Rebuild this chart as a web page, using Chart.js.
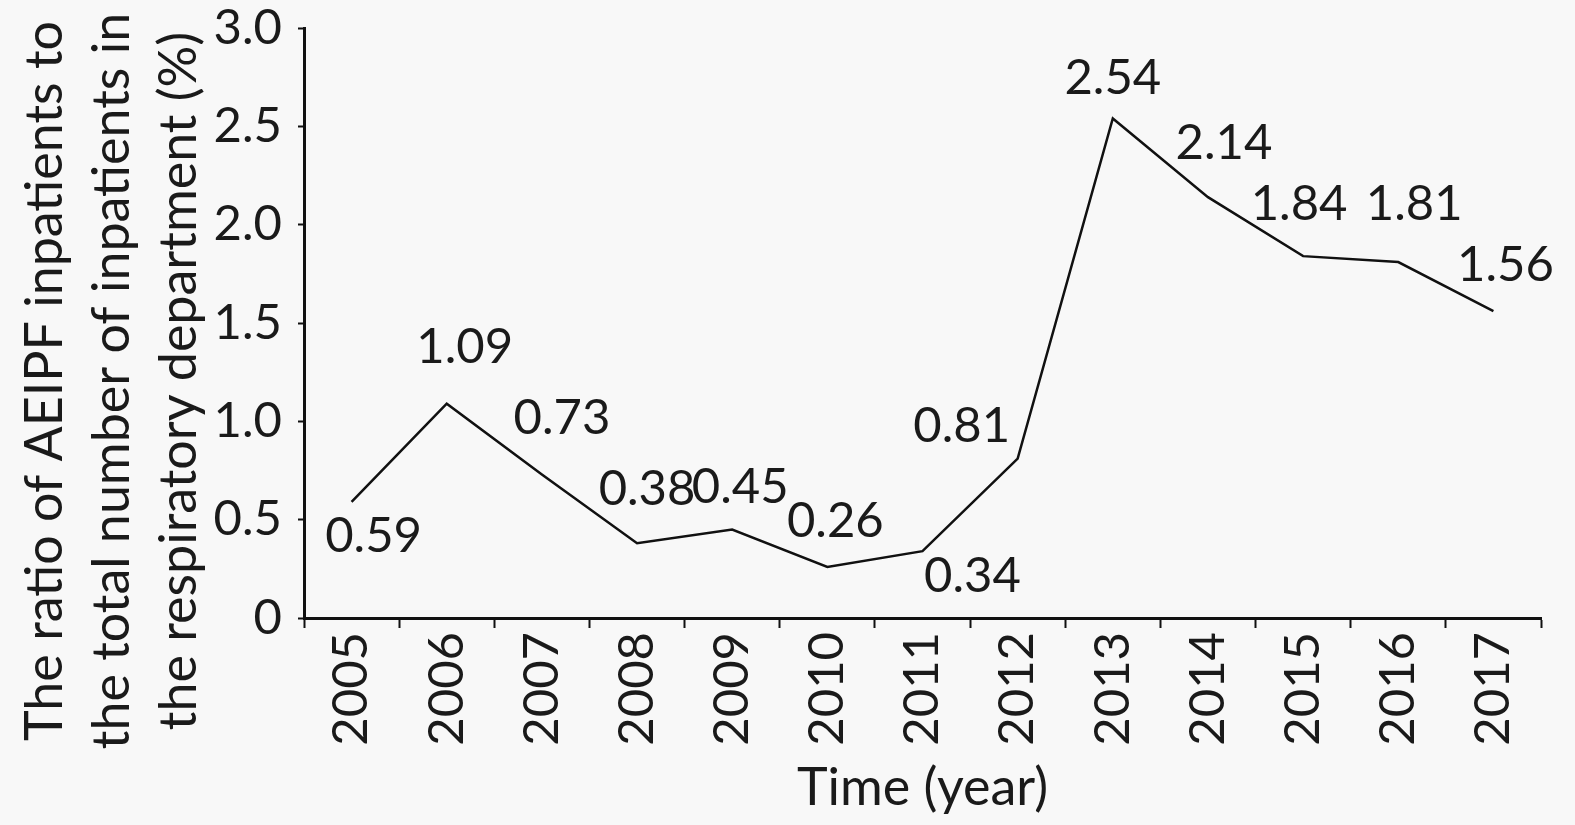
<!DOCTYPE html>
<html>
<head>
<meta charset="utf-8">
<script src="https://cdn.jsdelivr.net/npm/chart.js@4.4.1/dist/chart.umd.min.js"></script>
<style>
  html, body { margin: 0; padding: 0; background: #f8f8f8; }
  #wrap { width: 1575px; height: 825px; }
</style>
</head>
<body>
<div id="wrap"><canvas id="aeipfChart"></canvas></div>
<script>
// data
const years = ['2005', '2006', '2007', '2008', '2009', '2010', '2011', '2012', '2013', '2014', '2015', '2016', '2017'];
const ratios = [0.59, 1.09, 0.73, 0.38, 0.45, 0.26, 0.34, 0.81, 2.54, 2.14, 1.84, 1.81, 1.56];
const yTicks = [0, 0.5, 1.0, 1.5, 2.0, 2.5, 3.0];
const yTitle = ['The ratio of AEIPF inpatients to', 'the total number of inpatients in', 'the respiratory department (%)'];

// where each value label sits relative to its point (px)
const labelShift = [
    [22, 34], [18, -56], [20, -56], [10, -54], [8, -42],
    [8, -46], [50, 25], [-56, -32], [0, -40], [16, -54],
    [-4, -52], [16, -58], [12, -46]
];

const FONT = 'Lato, "Open Sans", sans-serif';
const INK = '#1a1a1a';

const valueLabels = {
    id: 'valueLabels',
    afterDatasetsDraw(chart) {
        const ctx = chart.ctx;
        const meta = chart.getDatasetMeta(0);
        ctx.save();
        ctx.font = '49px ' + FONT;
        ctx.fillStyle = INK;
        ctx.textAlign = 'center';
        ctx.textBaseline = 'middle';
        meta.data.forEach((pt, i) => {
            const s = labelShift[i];
            ctx.fillText(ratios[i].toFixed(2), pt.x + s[0], pt.y + s[1]);
        });
        ctx.restore();
    }
};

// y axis title, three centred lines turned on their side
const sideTitle = {
    id: 'sideTitle',
    afterDraw(chart) {
        const ctx = chart.ctx;
        ctx.save();
        ctx.font = '52px ' + FONT;
        ctx.fillStyle = INK;
        ctx.textAlign = 'center';
        ctx.textBaseline = 'middle';
        ctx.translate(45, 381);
        ctx.rotate(-Math.PI / 2);
        yTitle.forEach((line, i) => ctx.fillText(line, 0, i * 67));
        ctx.restore();
    }
};

const aeipfChart = new Chart(document.getElementById('aeipfChart'), {
    type: 'line',
    data: {
        labels: years,
        datasets: [{
            label: 'AEIPF ratio',
            data: ratios,
            borderColor: '#111',
            borderWidth: 2.5,
            pointRadius: 0,
            tension: 0,
            fill: false
        }]
    },
    options: {
        responsive: true,
        maintainAspectRatio: false,
        animation: false,
        layout: { padding: { top: 28, right: 34, bottom: 6, left: 0 } },
        plugins: {
            legend: { display: false },
            tooltip: { enabled: false }
        },
        scales: {
            x: {
                offset: true,
                grid: {
                    offset: true,
                    drawOnChartArea: false,
                    drawTicks: true,
                    tickLength: 10,
                    tickWidth: 2,
                    tickColor: '#111'
                },
                border: { display: true, color: '#111', width: 3 },
                ticks: {
                    color: INK,
                    font: { family: FONT, size: 49 },
                    maxRotation: 90,
                    minRotation: 90,
                    padding: 4,
                    autoSkip: false
                },
                title: {
                    display: true,
                    text: 'Time (year)',
                    color: INK,
                    font: { family: FONT, size: 52 },
                    padding: { top: 0, bottom: 0 }
                },
                afterFit: s => { s.height = 201; }
            },
            y: {
                min: 0,
                max: 3,
                afterBuildTicks: s => { s.ticks = yTicks.map(v => ({ value: v })); },
                grid: {
                    drawOnChartArea: false,
                    drawTicks: true,
                    tickLength: 6,
                    tickWidth: 2,
                    tickColor: '#111'
                },
                border: { display: true, color: '#111', width: 3 },
                ticks: {
                    color: INK,
                    font: { family: FONT, size: 49 },
                    padding: 16,
                    callback: v => (v === 0 ? '0' : v.toFixed(1))
                },
                afterFit: s => {
                    s.width = 304;
                    s.paddingTop = 0;
                    s.paddingBottom = 0;
                }
            }
        }
    },
    plugins: [valueLabels, sideTitle]
});
</script>
</body>
</html>
